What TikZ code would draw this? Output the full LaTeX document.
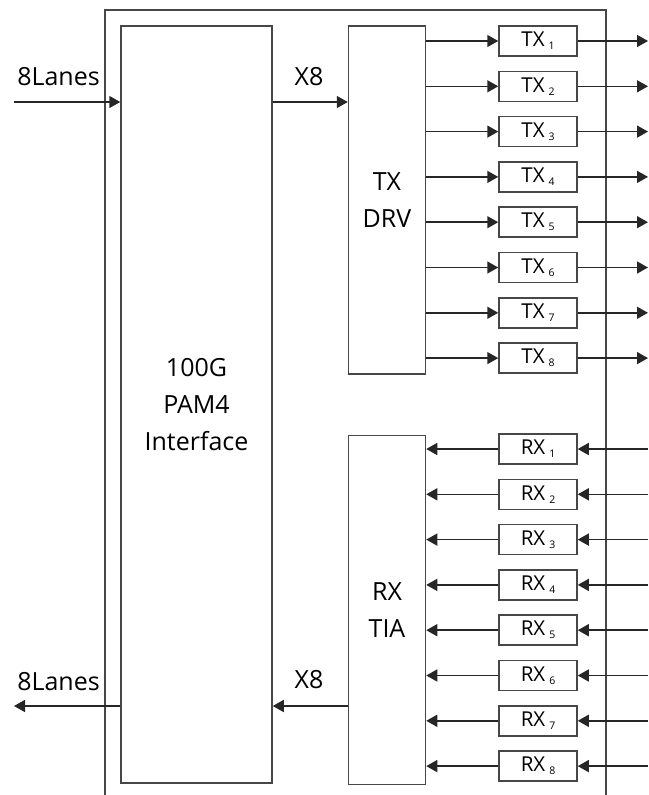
\documentclass[tikz,border=0pt]{standalone}
\usepackage{fontspec}
\setmainfont{Open Sans}
\usepackage{tikz}
\usetikzlibrary{arrows.meta, positioning}
\newcommand{\lanelabel}[2]{#1\hspace{4pt}\raisebox{-3pt}{\fontsize{10.5}{10.5}\selectfont #2}}

\begin{document}
\begin{tikzpicture}[
    x=1pt, y=-1pt,
    block/.style={
        rectangle,
        draw=black!72,
        line width=1.5pt,
        inner sep=0pt,
        font=\fontsize{25}{37}\selectfont,
        align=center
    },
    lane/.style={
        rectangle,
        draw=black!72,
        line width=1.5pt,
        inner sep=0pt,
        minimum width=78pt,
        minimum height=30pt,
        font=\fontsize{20.5}{22}\selectfont
    },
    tag/.style={font=\fontsize{25}{25}\selectfont, inner sep=0pt},
    edge/.style={-{Triangle[length=11pt, width=12pt]}, line width=1.5pt, draw=black!85}
]
    \useasboundingbox (0,0) rectangle (648,795);

    % Outer frame (open at the bottom)
    \draw[line width=1.5pt, draw=black!72] (105,795) |- (606,10) -- (606,795);

    % Main blocks
    \node[block, minimum width=151pt, minimum height=757pt] (pam) at (196.5,404.5) {100G\\PAM4\\Interface};
    \node[block, minimum width=77pt, minimum height=348pt, right=75pt of pam.north east, anchor=north west] (drv) {TX\\DRV};
    \node[block, minimum width=77pt, minimum height=349pt, below=60pt of drv.south west, anchor=north west] (tia) {RX\\TIA};

    % Lane boxes
    \foreach \i in {1,...,8} {
        \node[lane] (tx\i) at (538,{41+45.3*(\i-1)}) {\lanelabel{TX}{\i}};
        \node[lane] (rx\i) at (538,{449+45.3*(\i-1)}) {\lanelabel{RX}{\i}};
        \coordinate (txout\i) at (648,{41+45.3*(\i-1)});
        \coordinate (rxin\i) at (648,{449+45.3*(\i-1)});
    }

    % Transmit lanes
    \foreach \i in {1,...,8} {
        \draw[edge] (drv.east |- tx\i) -- (tx\i);
        \draw[edge] (tx\i) -- (txout\i);
    }

    % Receive lanes
    \foreach \i in {1,...,8} {
        \draw[edge] (rxin\i) -- (rx\i);
        \draw[edge] (rx\i) -- (tia.east |- rx\i);
    }

    % Host side
    \coordinate (lanein) at (14,102);
    \coordinate (laneout) at (14,706);
    \node[tag] (inlabel) at (58.5,77) {8Lanes};
    \node[tag] (outlabel) at (58.5,682) {8Lanes};
    \node[tag] (txbus) at (309,77) {X8};
    \node[tag] (rxbus) at (309,680) {X8};
    \draw[edge] (lanein) -- (pam.west |- lanein);
    \draw[edge] (pam.east |- lanein) -- (drv.west |- lanein);
    \draw[edge] (tia.west |- laneout) -- (pam.east |- laneout);
    \draw[edge] (pam.west |- laneout) -- (laneout);
\end{tikzpicture}
\end{document}
